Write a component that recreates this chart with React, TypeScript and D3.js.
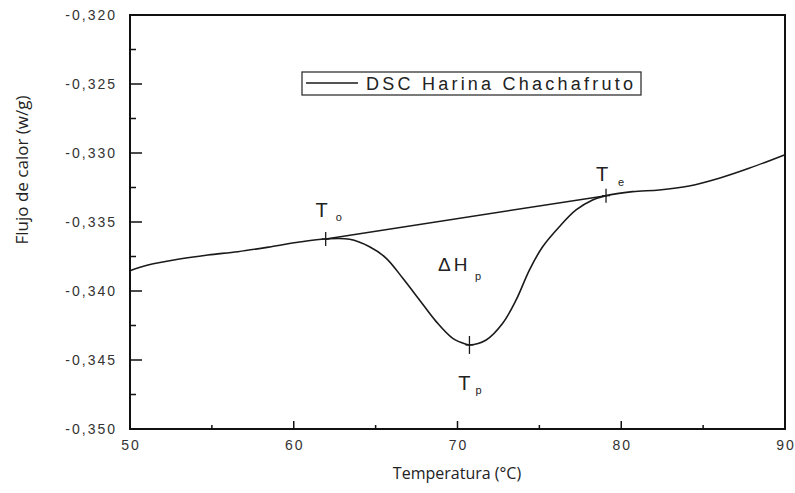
import React from "react";
import * as d3 from "d3";

const temps = [50, 51.1, 52.93, 54.76, 56.59, 58.62, 60.45, 61.95, 63.41, 64.63, 65.65, 66.66, 67.68, 68.7, 69.71, 70.53, 70.73, 71.75, 72.76, 73.58, 74.39, 75.2, 76.22, 77.24, 78.25, 79.07, 80.69, 82.32, 84.15, 85.98, 87.8, 90];
const flux = [-0.33853, -0.33812, -0.3377, -0.33739, -0.33715, -0.33679, -0.33643, -0.33623, -0.33625, -0.33679, -0.33763, -0.33908, -0.34065, -0.34222, -0.34343, -0.34386, -0.34391, -0.34355, -0.34234, -0.34065, -0.33848, -0.33679, -0.33534, -0.33413, -0.33341, -0.33309, -0.3328, -0.33268, -0.33239, -0.33183, -0.33111, -0.33012];

const markerNames = ["o", "p", "e"];
const markerTemps = [61.95, 70.73, 79.07];
const markerFlux = [-0.33623, -0.34391, -0.33309];

const xTicks = [50, 60, 70, 80, 90];
const xMinor = [55, 65, 75, 85];
const yTicks = [-0.32, -0.325, -0.33, -0.335, -0.34, -0.345, -0.35];
const yMinor = [-0.3225, -0.3275, -0.3325, -0.3375, -0.3425, -0.3475];

const legendLabel = "DSC Harina Chachafruto";
const xTitle = "Temperatura (°C)";
const yTitle = "Flujo de calor (w/g)";

const W = 795;
const H = 493;
const L = 130, R = 785, T = 15, B = 429;

export default function App() {
  const x = d3.scaleLinear().domain([50, 90]).range([L, R]);
  const y = d3.scaleLinear().domain([-0.35, -0.32]).range([B, T]);
  const pts = temps.map((t, i) => [t, flux[i]] as [number, number]);
  const line = d3
    .line<[number, number]>()
    .x((d) => x(d[0]))
    .y((d) => y(d[1]))
    .curve(d3.curveCatmullRom.alpha(0.5));
  const fmt = (v: number) => v.toFixed(3).replace(".", ",");
  const txt = "#222";
  const tickFont = "Arial, 'Liberation Sans', Helvetica, sans-serif";
  const titleFont = "'Open Sans', 'Noto Sans', sans-serif";

  const labelPos = [
    { dx: -4, dy: -22, sx: 10, sy: -18 },
    { dx: -5, dy: 45, sx: 6, sy: 49 },
    { dx: -4, dy: -15, sx: 12, sy: -10 },
  ];

  return (
    <svg width={W} height={H} style={{ position: "absolute", left: 0, top: 0, background: "#fff" }}>
      <rect x={0} y={0} width={W} height={H} fill="#fff" />
      <line
        x1={x(markerTemps[0])}
        y1={y(markerFlux[0])}
        x2={x(markerTemps[2])}
        y2={y(markerFlux[2])}
        stroke="#1a1a1a"
        strokeWidth={1.5}
      />
      <path d={line(pts) || ""} fill="none" stroke="#1a1a1a" strokeWidth={1.6} />
      {markerTemps.map((t, i) => (
        <g key={"m" + i}>
          <line x1={x(t)} x2={x(t)} y1={y(markerFlux[i]) - (i === 1 ? 9 : 7)} y2={y(markerFlux[i]) + (i === 1 ? 9 : 7)} stroke="#1a1a1a" strokeWidth={1.3} />
          <line x1={x(t) - 4} x2={x(t) + 4} y1={y(markerFlux[i])} y2={y(markerFlux[i])} stroke="#1a1a1a" strokeWidth={1.3} />
          <text x={x(t) + labelPos[i].dx} y={y(markerFlux[i]) + labelPos[i].dy} fontFamily={tickFont} fontSize={20} fill={txt} textAnchor="middle">T</text>
          <text x={x(t) + labelPos[i].sx} y={y(markerFlux[i]) + labelPos[i].sy} fontFamily={tickFont} fontSize={11} fill={txt}>{markerNames[i]}</text>
        </g>
      ))}
      <text x={438} y={271} fontFamily={tickFont} fontSize={19} fill={txt} letterSpacing={3}>ΔH</text>
      <text x={475} y={280} fontFamily={tickFont} fontSize={11} fill={txt}>p</text>

      <rect x={302} y={72} width={339} height={23} fill="#fff" stroke="#333" strokeWidth={1.3} />
      <line x1={306} x2={358} y1={83} y2={83} stroke="#1a1a1a" strokeWidth={1.5} />
      <text x={366} y={90} fontFamily={tickFont} fontSize={18} fill={txt} textLength={267} lengthAdjust="spacing">{legendLabel}</text>

      <rect x={L} y={T} width={R - L} height={B - T} fill="none" stroke="#111" strokeWidth={2} />

      {yTicks.map((v, i) => (
        <g key={"y" + i}>
          <line x1={L} x2={L + 12} y1={y(v)} y2={y(v)} stroke="#111" strokeWidth={1.5} />
          <text x={117} y={y(v) + 5} fontFamily={tickFont} fontSize={14} fill="#333" textAnchor="end" letterSpacing={2}>{fmt(v)}</text>
        </g>
      ))}
      {yMinor.map((v, i) => (
        <line key={"ym" + i} x1={L} x2={L + 6} y1={y(v)} y2={y(v)} stroke="#111" strokeWidth={1.5} />
      ))}
      {xTicks.map((v, i) => (
        <g key={"x" + i}>
          <line x1={x(v)} x2={x(v)} y1={B} y2={B - 8} stroke="#111" strokeWidth={1.5} />
          <text x={x(v) + 1} y={450} fontFamily={tickFont} fontSize={14} fill="#333" textAnchor="middle" letterSpacing={2}>{String(v)}</text>
        </g>
      ))}
      {xMinor.map((v, i) => (
        <line key={"xm" + i} x1={x(v)} x2={x(v)} y1={B} y2={B - 4} stroke="#111" strokeWidth={1.5} />
      ))}

      <text x={457} y={479} fontFamily={titleFont} fontSize={16} fill={txt} textAnchor="middle">{xTitle}</text>
      <text transform="translate(28,170) rotate(-90)" fontFamily={titleFont} fontSize={17} fill={txt} textAnchor="middle">{yTitle}</text>
    </svg>
  );
}
